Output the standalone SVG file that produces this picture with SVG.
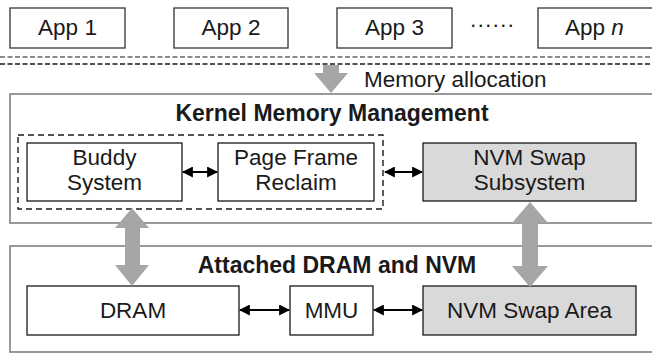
<svg xmlns="http://www.w3.org/2000/svg" width="652" height="354" viewBox="0 0 652 354">
<style>
text{font-family:"Liberation Sans",Arial,sans-serif;font-size:22.5px;fill:#1a1a1a;text-anchor:middle}
.b{font-weight:bold;font-size:23px}
.app{fill:#fff;stroke:#333;stroke-width:1.3}
.outer{fill:#fff;stroke:#808080;stroke-width:1.6}
.box{fill:#fff;stroke:#1a1a1a;stroke-width:1.3}
.gbox{fill:#d9d9d9;stroke:#1a1a1a;stroke-width:1.3}
.dash{fill:none;stroke:#1a1a1a;stroke-width:1.4;stroke-dasharray:6,4}
.link{stroke:#000;stroke-width:2;fill:none;marker-start:url(#ah);marker-end:url(#ah)}
.garrow{fill:#a6a6a6}
</style>
<defs>
<marker id="ah" viewBox="0 0 10 10" refX="9" refY="5" markerWidth="5.5" markerHeight="5.5" orient="auto-start-reverse"><path d="M0,0 L10,5 L0,10 z" fill="#000"/></marker>
</defs>
<rect x="0" y="0" width="652" height="354" fill="#fff"/>
<g id="app1"><rect class="app" x="10" y="8" width="115" height="40"/><text x="67.5" y="35">App 1</text></g>
<g id="app2"><rect class="app" x="174" y="8" width="114" height="40"/><text x="231" y="35">App 2</text></g>
<g id="app3"><rect class="app" x="337" y="8" width="115" height="40"/><text x="394.5" y="35">App 3</text></g>
<g id="dots"><text x="492" y="32">······</text></g>
<g id="appn"><rect class="app" x="538" y="8" width="130" height="40"/><text x="565" y="35" style="text-anchor:start">App <tspan font-style="italic">n</tspan></text></g>
<g id="separator">
<line x1="0" y1="57" x2="652" y2="57" stroke="#666" stroke-width="1.3" stroke-dasharray="5,2.5"/>
<line x1="0" y1="64" x2="652" y2="64" stroke="#1a1a1a" stroke-width="1.3" stroke-dasharray="5,2.5"/>
</g>
<g id="kernel">
<rect class="outer" x="10" y="94" width="660" height="129"/>
<text class="b" x="332" y="121">Kernel Memory Management</text>
<rect class="dash" x="18" y="135" width="365" height="74"/>
</g>
<g id="buddy"><rect class="box" x="27" y="143" width="155" height="58"/><text x="104.5" y="165">Buddy</text><text x="104.5" y="190">System</text></g>
<g id="pfr"><rect class="box" x="218" y="143" width="156" height="58"/><text x="296" y="165">Page Frame</text><text x="296" y="190">Reclaim</text></g>
<g id="nvmss"><rect class="gbox" x="423" y="143" width="213" height="58"/><text x="529.5" y="165">NVM Swap</text><text x="529.5" y="190">Subsystem</text></g>
<g id="attached">
<rect class="outer" x="10" y="246" width="660" height="106"/>
<text class="b" x="337" y="273">Attached DRAM and NVM</text>
</g>
<g id="dram"><rect class="box" x="27" y="286" width="212" height="49"/><text x="133" y="318">DRAM</text></g>
<g id="mmu"><rect class="box" x="290" y="286" width="83" height="49"/><text x="331.5" y="318">MMU</text></g>
<g id="nvmarea"><rect class="gbox" x="423" y="286" width="213" height="49"/><text x="529.5" y="318">NVM Swap Area</text></g>
<g id="connectors">
<path class="garrow" d="M323,65 H339 V73 H348 L331,93 L314,73 H323 Z"/>
<text x="364" y="87" style="text-anchor:start">Memory allocation</text>
<path class="garrow" d="M132,208 L149,228 H140 V265 H149 L132,286 L115,265 H125 V228 H115 Z"/>
<path class="garrow" d="M530,202 L548,223 H538 V266 H548 L530,287 L512,266 H522 V223 H512 Z"/>
<line class="link" x1="183" y1="172" x2="217" y2="172"/>
<line class="link" x1="385" y1="172" x2="422" y2="172"/>
<line class="link" x1="240" y1="310" x2="289" y2="310"/>
<line class="link" x1="374" y1="310" x2="422" y2="310"/>
</g>
</svg>
